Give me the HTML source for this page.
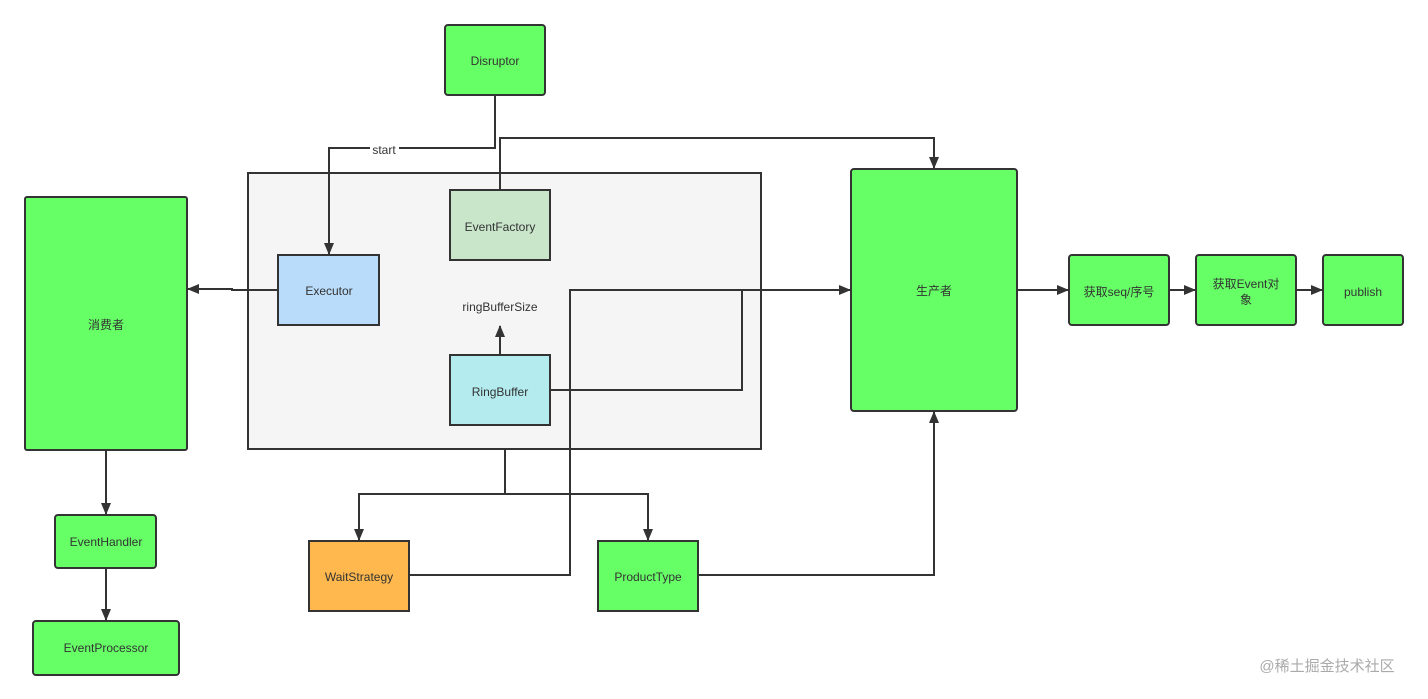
<!DOCTYPE html>
<html><head><meta charset="utf-8"><style>
html,body{margin:0;padding:0;background:#fff;}
svg{display:block;}
text{font-family:"Liberation Sans","Noto Sans CJK SC",sans-serif;font-size:12px;fill:#333;text-anchor:middle;dominant-baseline:middle;}
</style></head><body>
<svg width="1428" height="699" viewBox="0 0 1428 699" xmlns="http://www.w3.org/2000/svg">
<defs><marker id="a" markerWidth="12" markerHeight="12" refX="11" refY="6" orient="auto" markerUnits="userSpaceOnUse"><path d="M0,1 L12,6 L0,11 z" fill="#333"/></marker></defs>
<g stroke="#333" stroke-width="2">
<rect x="248" y="173" width="513" height="276" fill="#f5f5f5"/>
<rect x="445" y="25" width="100" height="70" rx="3" fill="#66ff66"/>
<rect x="450" y="190" width="100" height="70" fill="#c9e6cb"/>
<rect x="278" y="255" width="101" height="70" fill="#b9dcfa"/>
<rect x="450" y="355" width="100" height="70" fill="#b3ebef"/>
<rect x="25" y="197" width="162" height="253" rx="2" fill="#66ff66"/>
<rect x="55" y="515" width="101" height="53" rx="3" fill="#66ff66"/>
<rect x="33" y="621" width="146" height="54" rx="3" fill="#66ff66"/>
<rect x="851" y="169" width="166" height="242" rx="3" fill="#66ff66"/>
<rect x="1069" y="255" width="100" height="70" rx="3" fill="#66ff66"/>
<rect x="1196" y="255" width="100" height="70" rx="3" fill="#66ff66"/>
<rect x="1323" y="255" width="80" height="70" rx="3" fill="#66ff66"/>
<rect x="309" y="541" width="100" height="70" fill="#ffb84d"/>
<rect x="598" y="541" width="100" height="70" fill="#66ff66"/>
</g>
<g stroke="#333" stroke-width="2" fill="none">
<path d="M495,95 V148 H329 V254" marker-end="url(#a)"/>
<path d="M500,190 V138 H934 V168" marker-end="url(#a)"/>
<path d="M278,290 H232 V289 H188" marker-end="url(#a)"/>
<path d="M500,355 V326" marker-end="url(#a)"/>
<path d="M550,390 H742 V290"/>
<path d="M409,575 H570 V290 H850" marker-end="url(#a)"/>
<path d="M505,449 V494 H359 V540" marker-end="url(#a)"/>
<path d="M505,494 H648 V540" marker-end="url(#a)"/>
<path d="M698,575 H934 V412" marker-end="url(#a)"/>
<path d="M1017,290 H1068" marker-end="url(#a)"/>
<path d="M1169,290 H1195" marker-end="url(#a)"/>
<path d="M1296,290 H1322" marker-end="url(#a)"/>
<path d="M106,450 V514" marker-end="url(#a)"/>
<path d="M106,568 V620" marker-end="url(#a)"/>
</g>
<rect x="370" y="143" width="29" height="14" fill="#fff"/>
<text x="384" y="151">start</text>
<text x="495" y="62">Disruptor</text>
<text x="500" y="228">EventFactory</text>
<text x="329" y="292">Executor</text>
<text x="500" y="308">ringBufferSize</text>
<text x="500" y="393">RingBuffer</text>
<text x="106" y="326">消费者</text>
<text x="106" y="543">EventHandler</text>
<text x="106" y="649">EventProcessor</text>
<text x="934" y="292">生产者</text>
<text x="1119" y="293">获取seq/序号</text>
<text x="1246" y="285">获取Event对</text>
<text x="1246" y="301">象</text>
<text x="1363" y="293">publish</text>
<text x="359" y="578">WaitStrategy</text>
<text x="648" y="578">ProductType</text>
<text x="1327" y="667" style="font-size:15px;fill:#aaa">@稀土掘金技术社区</text>
</svg>
</body></html>
